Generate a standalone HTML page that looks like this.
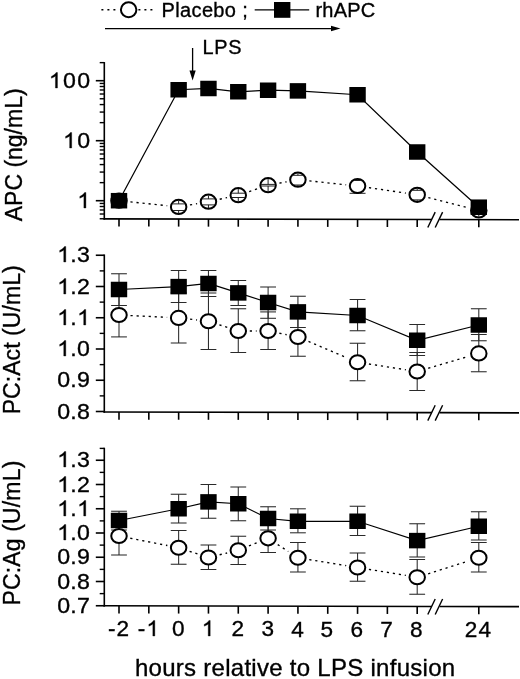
<!DOCTYPE html>
<html><head><meta charset="utf-8"><title>Figure</title>
<style>
html,body{margin:0;padding:0;background:#fff;}
body{width:520px;height:679px;overflow:hidden;font-family:"Liberation Sans",sans-serif;}
svg{display:block;will-change:transform;}
text{stroke:#000;stroke-width:0.35px;fill:#000;}
</style></head><body>
<svg width="520" height="679" viewBox="0 0 520 679">
<defs><filter id="soft" x="0" y="0" width="520" height="679" filterUnits="userSpaceOnUse"><feGaussianBlur stdDeviation="0.35"/></filter></defs>
<rect width="520" height="679" fill="#fff"/>
<g filter="url(#soft)">
<line x1="101.40" y1="9.80" x2="118.00" y2="9.80" stroke="#000" stroke-width="1.5" stroke-dasharray="2 4"/>
<line x1="138.40" y1="9.80" x2="153.00" y2="9.80" stroke="#000" stroke-width="1.5" stroke-dasharray="2 4"/>
<ellipse cx="128.65" cy="9.80" rx="7.75" ry="7.45" fill="#fff" stroke="#000" stroke-width="2.0"/>
<text x="161.60" y="17.00" font-size="20" text-anchor="start" letter-spacing="0.35" font-family="Liberation Sans, sans-serif" >Placebo ;</text>
<line x1="254.70" y1="9.80" x2="309.20" y2="9.80" stroke="#000" stroke-width="1.3" />
<rect x="274.00" y="2.00" width="16.4" height="15.8" fill="#000"/>
<text x="315.40" y="17.00" font-size="20" text-anchor="start" letter-spacing="0.25" font-family="Liberation Sans, sans-serif" >rhAPC</text>
<line x1="105.00" y1="28.60" x2="333.00" y2="28.60" stroke="#000" stroke-width="1.3" />
<polygon points="331,25.8 340.5,28.5 331,31.2" fill="#000"/>
<line x1="192.60" y1="48.00" x2="192.60" y2="73.00" stroke="#000" stroke-width="1.3" />
<polygon points="189.5,70.6 195.7,70.6 192.6,80.6" fill="#000"/>
<text transform="translate(202.4,53.6) scale(1.02,1)" font-size="19.5" letter-spacing="0.7" font-family="Liberation Sans, sans-serif">LPS</text>
<line x1="104.30" y1="62.04" x2="104.30" y2="219.65" stroke="#000" stroke-width="1.6" />
<line x1="99.70" y1="218.76" x2="104.30" y2="218.76" stroke="#000" stroke-width="1.4" />
<line x1="99.70" y1="214.01" x2="104.30" y2="214.01" stroke="#000" stroke-width="1.4" />
<line x1="99.70" y1="209.99" x2="104.30" y2="209.99" stroke="#000" stroke-width="1.4" />
<line x1="99.70" y1="206.51" x2="104.30" y2="206.51" stroke="#000" stroke-width="1.4" />
<line x1="99.70" y1="203.45" x2="104.30" y2="203.45" stroke="#000" stroke-width="1.4" />
<line x1="95.80" y1="200.70" x2="104.30" y2="200.70" stroke="#000" stroke-width="1.6" />
<line x1="99.70" y1="182.64" x2="104.30" y2="182.64" stroke="#000" stroke-width="1.4" />
<line x1="99.70" y1="172.07" x2="104.30" y2="172.07" stroke="#000" stroke-width="1.4" />
<line x1="99.70" y1="164.58" x2="104.30" y2="164.58" stroke="#000" stroke-width="1.4" />
<line x1="99.70" y1="158.76" x2="104.30" y2="158.76" stroke="#000" stroke-width="1.4" />
<line x1="99.70" y1="154.01" x2="104.30" y2="154.01" stroke="#000" stroke-width="1.4" />
<line x1="99.70" y1="149.99" x2="104.30" y2="149.99" stroke="#000" stroke-width="1.4" />
<line x1="99.70" y1="146.51" x2="104.30" y2="146.51" stroke="#000" stroke-width="1.4" />
<line x1="99.70" y1="143.45" x2="104.30" y2="143.45" stroke="#000" stroke-width="1.4" />
<line x1="95.80" y1="140.70" x2="104.30" y2="140.70" stroke="#000" stroke-width="1.6" />
<line x1="99.70" y1="122.64" x2="104.30" y2="122.64" stroke="#000" stroke-width="1.4" />
<line x1="99.70" y1="112.07" x2="104.30" y2="112.07" stroke="#000" stroke-width="1.4" />
<line x1="99.70" y1="104.58" x2="104.30" y2="104.58" stroke="#000" stroke-width="1.4" />
<line x1="99.70" y1="98.76" x2="104.30" y2="98.76" stroke="#000" stroke-width="1.4" />
<line x1="99.70" y1="94.01" x2="104.30" y2="94.01" stroke="#000" stroke-width="1.4" />
<line x1="99.70" y1="89.99" x2="104.30" y2="89.99" stroke="#000" stroke-width="1.4" />
<line x1="99.70" y1="86.51" x2="104.30" y2="86.51" stroke="#000" stroke-width="1.4" />
<line x1="99.70" y1="83.45" x2="104.30" y2="83.45" stroke="#000" stroke-width="1.4" />
<line x1="95.80" y1="80.70" x2="104.30" y2="80.70" stroke="#000" stroke-width="1.6" />
<line x1="99.70" y1="62.64" x2="104.30" y2="62.64" stroke="#000" stroke-width="1.4" />
<g transform="translate(48.83,88.00) scale(1.03,1)">
<path transform="translate(0.00,0) scale(0.01099,-0.01052)" d="M763,0 L583,0 L583,1147 Q518,1085 412.5,1023 Q307,961 223,930 L223,1104 Q374,1175 487,1276 Q600,1377 647,1472 L763,1472 Z" fill="#000" stroke="#000" stroke-width="31.9"/>
<text x="13.81" y="0" font-size="22.5" font-family="Liberation Sans, sans-serif">0</text>
<text x="27.62" y="0" font-size="22.5" font-family="Liberation Sans, sans-serif">0</text>
</g>
<g transform="translate(63.05,148.00) scale(1.03,1)">
<path transform="translate(0.00,0) scale(0.01099,-0.01052)" d="M763,0 L583,0 L583,1147 Q518,1085 412.5,1023 Q307,961 223,930 L223,1104 Q374,1175 487,1276 Q600,1377 647,1472 L763,1472 Z" fill="#000" stroke="#000" stroke-width="31.9"/>
<text x="13.81" y="0" font-size="22.5" font-family="Liberation Sans, sans-serif">0</text>
</g>
<g transform="translate(77.28,208.00) scale(1.03,1)">
<path transform="translate(0.00,0) scale(0.01099,-0.01052)" d="M763,0 L583,0 L583,1147 Q518,1085 412.5,1023 Q307,961 223,930 L223,1104 Q374,1175 487,1276 Q600,1377 647,1472 L763,1472 Z" fill="#000" stroke="#000" stroke-width="31.9"/>
</g>
<line x1="103.50" y1="218.85" x2="431.80" y2="219.50" stroke="#000" stroke-width="1.6" />
<line x1="439.60" y1="219.52" x2="519.00" y2="219.68" stroke="#000" stroke-width="1.6" />
<line x1="119.00" y1="218.88" x2="119.00" y2="226.48" stroke="#000" stroke-width="1.6" />
<line x1="148.82" y1="218.94" x2="148.82" y2="226.54" stroke="#000" stroke-width="1.6" />
<line x1="178.64" y1="219.00" x2="178.64" y2="226.60" stroke="#000" stroke-width="1.6" />
<line x1="208.46" y1="219.06" x2="208.46" y2="226.66" stroke="#000" stroke-width="1.6" />
<line x1="238.28" y1="219.12" x2="238.28" y2="226.72" stroke="#000" stroke-width="1.6" />
<line x1="268.10" y1="219.18" x2="268.10" y2="226.78" stroke="#000" stroke-width="1.6" />
<line x1="297.92" y1="219.24" x2="297.92" y2="226.84" stroke="#000" stroke-width="1.6" />
<line x1="327.74" y1="219.30" x2="327.74" y2="226.90" stroke="#000" stroke-width="1.6" />
<line x1="357.56" y1="219.36" x2="357.56" y2="226.96" stroke="#000" stroke-width="1.6" />
<line x1="387.38" y1="219.42" x2="387.38" y2="227.02" stroke="#000" stroke-width="1.6" />
<line x1="417.20" y1="219.48" x2="417.20" y2="227.08" stroke="#000" stroke-width="1.6" />
<line x1="478.80" y1="219.60" x2="478.80" y2="227.20" stroke="#000" stroke-width="1.6" />
<line x1="427.80" y1="227.50" x2="435.20" y2="212.10" stroke="#000" stroke-width="1.4" />
<line x1="435.20" y1="227.51" x2="442.60" y2="212.11" stroke="#000" stroke-width="1.4" />
<line x1="130.44" y1="201.89" x2="167.20" y2="205.71" stroke="#000" stroke-width="1.35" stroke-dasharray="2.2 3.86"/>
<line x1="189.97" y1="204.92" x2="197.13" y2="203.68" stroke="#000" stroke-width="1.35" stroke-dasharray="2.2 3.86"/>
<line x1="219.70" y1="199.25" x2="227.04" y2="197.65" stroke="#000" stroke-width="1.35" stroke-dasharray="2.2 3.86"/>
<line x1="249.18" y1="191.54" x2="257.20" y2="188.86" stroke="#000" stroke-width="1.35" stroke-dasharray="2.2 3.86"/>
<line x1="279.41" y1="183.11" x2="286.61" y2="181.79" stroke="#000" stroke-width="1.35" stroke-dasharray="2.2 3.86"/>
<line x1="309.36" y1="180.91" x2="346.12" y2="184.79" stroke="#000" stroke-width="1.35" stroke-dasharray="2.2 3.86"/>
<line x1="368.94" y1="187.68" x2="405.82" y2="193.12" stroke="#000" stroke-width="1.35" stroke-dasharray="2.2 3.86"/>
<line x1="428.34" y1="197.64" x2="467.66" y2="207.66" stroke="#000" stroke-width="1.35" stroke-dasharray="2.2 3.86"/>
<polyline points="119.00,200.70 178.64,89.75 208.46,88.50 238.28,91.75 268.10,90.25 297.92,90.90 357.56,94.75 417.20,152.00 478.80,207.20" fill="none" stroke="#000" stroke-width="1.25" />
<ellipse cx="119.00" cy="200.70" rx="7.75" ry="7.1" fill="#fff" stroke="#000" stroke-width="2.0"/>
<clipPath id="cc0"><ellipse cx="119.00" cy="200.70" rx="7.15" ry="6.5"/></clipPath>
<g clip-path="url(#cc0)" stroke="#222" stroke-width="1.0">
<line x1="111.00" y1="199.20" x2="127.00" y2="199.20"/>
<line x1="119.00" y1="199.20" x2="119.00" y2="193.60"/>
<line x1="111.00" y1="202.20" x2="127.00" y2="202.20"/>
<line x1="119.00" y1="202.20" x2="119.00" y2="207.80"/>
</g>
<ellipse cx="178.64" cy="206.90" rx="7.75" ry="7.1" fill="#fff" stroke="#000" stroke-width="2.0"/>
<clipPath id="cc1"><ellipse cx="178.64" cy="206.90" rx="7.15" ry="6.5"/></clipPath>
<g clip-path="url(#cc1)" stroke="#222" stroke-width="1.0">
<line x1="170.64" y1="203.90" x2="186.64" y2="203.90"/>
<line x1="178.64" y1="203.90" x2="178.64" y2="199.80"/>
<line x1="170.64" y1="210.50" x2="186.64" y2="210.50"/>
<line x1="178.64" y1="210.50" x2="178.64" y2="214.00"/>
</g>
<ellipse cx="208.46" cy="201.70" rx="7.75" ry="7.1" fill="#fff" stroke="#000" stroke-width="2.0"/>
<clipPath id="cc2"><ellipse cx="208.46" cy="201.70" rx="7.15" ry="6.5"/></clipPath>
<g clip-path="url(#cc2)" stroke="#222" stroke-width="1.0">
<line x1="200.46" y1="198.90" x2="216.46" y2="198.90"/>
<line x1="208.46" y1="198.90" x2="208.46" y2="194.60"/>
<line x1="200.46" y1="204.90" x2="216.46" y2="204.90"/>
<line x1="208.46" y1="204.90" x2="208.46" y2="208.80"/>
</g>
<ellipse cx="238.28" cy="195.20" rx="7.75" ry="7.1" fill="#fff" stroke="#000" stroke-width="2.0"/>
<clipPath id="cc3"><ellipse cx="238.28" cy="195.20" rx="7.15" ry="6.5"/></clipPath>
<g clip-path="url(#cc3)" stroke="#222" stroke-width="1.0">
<line x1="230.28" y1="193.20" x2="246.28" y2="193.20"/>
<line x1="238.28" y1="193.20" x2="238.28" y2="188.10"/>
<line x1="230.28" y1="197.50" x2="246.28" y2="197.50"/>
<line x1="238.28" y1="197.50" x2="238.28" y2="202.30"/>
</g>
<ellipse cx="268.10" cy="185.20" rx="7.75" ry="7.1" fill="#fff" stroke="#000" stroke-width="2.0"/>
<clipPath id="cc4"><ellipse cx="268.10" cy="185.20" rx="7.15" ry="6.5"/></clipPath>
<g clip-path="url(#cc4)" stroke="#222" stroke-width="1.0">
<line x1="260.10" y1="184.40" x2="276.10" y2="184.40"/>
<line x1="268.10" y1="184.40" x2="268.10" y2="178.10"/>
<line x1="260.10" y1="186.00" x2="276.10" y2="186.00"/>
<line x1="268.10" y1="186.00" x2="268.10" y2="192.30"/>
</g>
<ellipse cx="297.92" cy="179.70" rx="7.75" ry="7.1" fill="#fff" stroke="#000" stroke-width="2.0"/>
<clipPath id="cc5"><ellipse cx="297.92" cy="179.70" rx="7.15" ry="6.5"/></clipPath>
<g clip-path="url(#cc5)" stroke="#222" stroke-width="1.0">
<line x1="289.92" y1="175.30" x2="305.92" y2="175.30"/>
<line x1="297.92" y1="175.30" x2="297.92" y2="172.60"/>
<line x1="289.92" y1="185.00" x2="305.92" y2="185.00"/>
<line x1="297.92" y1="185.00" x2="297.92" y2="186.80"/>
</g>
<line x1="349.56" y1="193.30" x2="365.56" y2="193.30" stroke="#222" stroke-width="1.0" />
<ellipse cx="357.56" cy="186.00" rx="7.75" ry="7.1" fill="#fff" stroke="#000" stroke-width="2.0"/>
<clipPath id="cc6"><ellipse cx="357.56" cy="186.00" rx="7.15" ry="6.5"/></clipPath>
<g clip-path="url(#cc6)" stroke="#222" stroke-width="1.0">
<line x1="349.56" y1="180.50" x2="365.56" y2="180.50"/>
<line x1="357.56" y1="180.50" x2="357.56" y2="178.90"/>
</g>
<ellipse cx="417.20" cy="194.80" rx="7.75" ry="7.1" fill="#fff" stroke="#000" stroke-width="2.0"/>
<clipPath id="cc7"><ellipse cx="417.20" cy="194.80" rx="7.15" ry="6.5"/></clipPath>
<g clip-path="url(#cc7)" stroke="#222" stroke-width="1.0">
<line x1="409.20" y1="190.30" x2="425.20" y2="190.30"/>
<line x1="417.20" y1="190.30" x2="417.20" y2="187.70"/>
<line x1="409.20" y1="199.90" x2="425.20" y2="199.90"/>
<line x1="417.20" y1="199.90" x2="417.20" y2="201.90"/>
</g>
<ellipse cx="478.80" cy="210.50" rx="7.75" ry="7.1" fill="#fff" stroke="#000" stroke-width="2.0"/>
<clipPath id="cc8"><ellipse cx="478.80" cy="210.50" rx="7.15" ry="6.5"/></clipPath>
<g clip-path="url(#cc8)" stroke="#222" stroke-width="1.0">
<line x1="470.80" y1="207.00" x2="486.80" y2="207.00"/>
<line x1="478.80" y1="207.00" x2="478.80" y2="203.40"/>
<line x1="470.80" y1="214.50" x2="486.80" y2="214.50"/>
<line x1="478.80" y1="214.50" x2="478.80" y2="217.60"/>
</g>
<rect x="110.80" y="192.95" width="16.4" height="15.5" fill="#000"/>
<rect x="170.44" y="82.00" width="16.4" height="15.5" fill="#000"/>
<rect x="200.26" y="80.75" width="16.4" height="15.5" fill="#000"/>
<rect x="230.08" y="84.00" width="16.4" height="15.5" fill="#000"/>
<rect x="259.90" y="82.50" width="16.4" height="15.5" fill="#000"/>
<rect x="289.72" y="83.15" width="16.4" height="15.5" fill="#000"/>
<rect x="349.36" y="87.00" width="16.4" height="15.5" fill="#000"/>
<rect x="409.00" y="144.25" width="16.4" height="15.5" fill="#000"/>
<rect x="470.60" y="199.45" width="16.4" height="15.5" fill="#000"/>
<text transform="translate(21.8,221.3) rotate(-90)" font-size="23" font-family="Liberation Sans, sans-serif">APC (ng/mL)</text>
<line x1="104.30" y1="254.45" x2="104.30" y2="412.80" stroke="#000" stroke-width="1.6" />
<line x1="95.80" y1="411.50" x2="104.30" y2="411.50" stroke="#000" stroke-width="1.6" />
<g transform="translate(57.16,419.00) scale(1.03,1)">
<text x="0.00" y="0" font-size="22.5" font-family="Liberation Sans, sans-serif">0</text>
<text x="12.81" y="0" font-size="22.5" font-family="Liberation Sans, sans-serif">.</text>
<text x="19.37" y="0" font-size="22.5" font-family="Liberation Sans, sans-serif">8</text>
</g>
<line x1="99.70" y1="395.88" x2="104.30" y2="395.88" stroke="#000" stroke-width="1.4" />
<line x1="95.80" y1="380.25" x2="104.30" y2="380.25" stroke="#000" stroke-width="1.6" />
<g transform="translate(57.16,387.00) scale(1.03,1)">
<text x="0.00" y="0" font-size="22.5" font-family="Liberation Sans, sans-serif">0</text>
<text x="12.81" y="0" font-size="22.5" font-family="Liberation Sans, sans-serif">.</text>
<text x="19.37" y="0" font-size="22.5" font-family="Liberation Sans, sans-serif">9</text>
</g>
<line x1="99.70" y1="364.62" x2="104.30" y2="364.62" stroke="#000" stroke-width="1.4" />
<line x1="95.80" y1="349.00" x2="104.30" y2="349.00" stroke="#000" stroke-width="1.6" />
<g transform="translate(57.16,356.00) scale(1.03,1)">
<path transform="translate(0.00,0) scale(0.01099,-0.01052)" d="M763,0 L583,0 L583,1147 Q518,1085 412.5,1023 Q307,961 223,930 L223,1104 Q374,1175 487,1276 Q600,1377 647,1472 L763,1472 Z" fill="#000" stroke="#000" stroke-width="31.9"/>
<text x="12.81" y="0" font-size="22.5" font-family="Liberation Sans, sans-serif">.</text>
<text x="19.37" y="0" font-size="22.5" font-family="Liberation Sans, sans-serif">0</text>
</g>
<line x1="99.70" y1="333.38" x2="104.30" y2="333.38" stroke="#000" stroke-width="1.4" />
<line x1="95.80" y1="317.75" x2="104.30" y2="317.75" stroke="#000" stroke-width="1.6" />
<g transform="translate(57.16,325.00) scale(1.03,1)">
<path transform="translate(0.00,0) scale(0.01099,-0.01052)" d="M763,0 L583,0 L583,1147 Q518,1085 412.5,1023 Q307,961 223,930 L223,1104 Q374,1175 487,1276 Q600,1377 647,1472 L763,1472 Z" fill="#000" stroke="#000" stroke-width="31.9"/>
<text x="12.81" y="0" font-size="22.5" font-family="Liberation Sans, sans-serif">.</text>
<path transform="translate(19.37,0) scale(0.01099,-0.01052)" d="M763,0 L583,0 L583,1147 Q518,1085 412.5,1023 Q307,961 223,930 L223,1104 Q374,1175 487,1276 Q600,1377 647,1472 L763,1472 Z" fill="#000" stroke="#000" stroke-width="31.9"/>
</g>
<line x1="99.70" y1="302.12" x2="104.30" y2="302.12" stroke="#000" stroke-width="1.4" />
<line x1="95.80" y1="286.50" x2="104.30" y2="286.50" stroke="#000" stroke-width="1.6" />
<g transform="translate(57.16,294.00) scale(1.03,1)">
<path transform="translate(0.00,0) scale(0.01099,-0.01052)" d="M763,0 L583,0 L583,1147 Q518,1085 412.5,1023 Q307,961 223,930 L223,1104 Q374,1175 487,1276 Q600,1377 647,1472 L763,1472 Z" fill="#000" stroke="#000" stroke-width="31.9"/>
<text x="12.81" y="0" font-size="22.5" font-family="Liberation Sans, sans-serif">.</text>
<text x="19.37" y="0" font-size="22.5" font-family="Liberation Sans, sans-serif">2</text>
</g>
<line x1="99.70" y1="270.88" x2="104.30" y2="270.88" stroke="#000" stroke-width="1.4" />
<line x1="95.80" y1="255.25" x2="104.30" y2="255.25" stroke="#000" stroke-width="1.6" />
<g transform="translate(57.16,262.00) scale(1.03,1)">
<path transform="translate(0.00,0) scale(0.01099,-0.01052)" d="M763,0 L583,0 L583,1147 Q518,1085 412.5,1023 Q307,961 223,930 L223,1104 Q374,1175 487,1276 Q600,1377 647,1472 L763,1472 Z" fill="#000" stroke="#000" stroke-width="31.9"/>
<text x="12.81" y="0" font-size="22.5" font-family="Liberation Sans, sans-serif">.</text>
<text x="19.37" y="0" font-size="22.5" font-family="Liberation Sans, sans-serif">3</text>
</g>
<line x1="103.50" y1="412.00" x2="431.80" y2="412.65" stroke="#000" stroke-width="1.6" />
<line x1="439.60" y1="412.67" x2="519.00" y2="412.83" stroke="#000" stroke-width="1.6" />
<line x1="119.00" y1="412.03" x2="119.00" y2="419.63" stroke="#000" stroke-width="1.6" />
<line x1="148.82" y1="412.09" x2="148.82" y2="419.69" stroke="#000" stroke-width="1.6" />
<line x1="178.64" y1="412.15" x2="178.64" y2="419.75" stroke="#000" stroke-width="1.6" />
<line x1="208.46" y1="412.21" x2="208.46" y2="419.81" stroke="#000" stroke-width="1.6" />
<line x1="238.28" y1="412.27" x2="238.28" y2="419.87" stroke="#000" stroke-width="1.6" />
<line x1="268.10" y1="412.33" x2="268.10" y2="419.93" stroke="#000" stroke-width="1.6" />
<line x1="297.92" y1="412.39" x2="297.92" y2="419.99" stroke="#000" stroke-width="1.6" />
<line x1="327.74" y1="412.45" x2="327.74" y2="420.05" stroke="#000" stroke-width="1.6" />
<line x1="357.56" y1="412.51" x2="357.56" y2="420.11" stroke="#000" stroke-width="1.6" />
<line x1="387.38" y1="412.57" x2="387.38" y2="420.17" stroke="#000" stroke-width="1.6" />
<line x1="417.20" y1="412.63" x2="417.20" y2="420.23" stroke="#000" stroke-width="1.6" />
<line x1="478.80" y1="412.75" x2="478.80" y2="420.35" stroke="#000" stroke-width="1.6" />
<line x1="427.80" y1="420.65" x2="435.20" y2="405.25" stroke="#000" stroke-width="1.4" />
<line x1="435.20" y1="420.66" x2="442.60" y2="405.26" stroke="#000" stroke-width="1.4" />
<line x1="119.00" y1="294.00" x2="119.00" y2="336.90" stroke="#2a2a2a" stroke-width="1.05" />
<line x1="111.10" y1="294.00" x2="126.90" y2="294.00" stroke="#2a2a2a" stroke-width="1.05" />
<line x1="111.10" y1="336.90" x2="126.90" y2="336.90" stroke="#2a2a2a" stroke-width="1.05" />
<line x1="178.64" y1="292.90" x2="178.64" y2="343.00" stroke="#2a2a2a" stroke-width="1.05" />
<line x1="170.74" y1="292.90" x2="186.54" y2="292.90" stroke="#2a2a2a" stroke-width="1.05" />
<line x1="170.74" y1="343.00" x2="186.54" y2="343.00" stroke="#2a2a2a" stroke-width="1.05" />
<line x1="208.46" y1="293.00" x2="208.46" y2="349.50" stroke="#2a2a2a" stroke-width="1.05" />
<line x1="200.56" y1="293.00" x2="216.36" y2="293.00" stroke="#2a2a2a" stroke-width="1.05" />
<line x1="200.56" y1="349.50" x2="216.36" y2="349.50" stroke="#2a2a2a" stroke-width="1.05" />
<line x1="238.28" y1="308.75" x2="238.28" y2="352.50" stroke="#2a2a2a" stroke-width="1.05" />
<line x1="230.38" y1="308.75" x2="246.18" y2="308.75" stroke="#2a2a2a" stroke-width="1.05" />
<line x1="230.38" y1="352.50" x2="246.18" y2="352.50" stroke="#2a2a2a" stroke-width="1.05" />
<line x1="268.10" y1="311.90" x2="268.10" y2="349.50" stroke="#2a2a2a" stroke-width="1.05" />
<line x1="260.20" y1="311.90" x2="276.00" y2="311.90" stroke="#2a2a2a" stroke-width="1.05" />
<line x1="260.20" y1="349.50" x2="276.00" y2="349.50" stroke="#2a2a2a" stroke-width="1.05" />
<line x1="297.92" y1="318.50" x2="297.92" y2="356.25" stroke="#2a2a2a" stroke-width="1.05" />
<line x1="290.02" y1="318.50" x2="305.82" y2="318.50" stroke="#2a2a2a" stroke-width="1.05" />
<line x1="290.02" y1="356.25" x2="305.82" y2="356.25" stroke="#2a2a2a" stroke-width="1.05" />
<line x1="357.56" y1="343.25" x2="357.56" y2="380.75" stroke="#2a2a2a" stroke-width="1.05" />
<line x1="349.66" y1="343.25" x2="365.46" y2="343.25" stroke="#2a2a2a" stroke-width="1.05" />
<line x1="349.66" y1="380.75" x2="365.46" y2="380.75" stroke="#2a2a2a" stroke-width="1.05" />
<line x1="417.20" y1="352.50" x2="417.20" y2="390.50" stroke="#2a2a2a" stroke-width="1.05" />
<line x1="409.30" y1="352.50" x2="425.10" y2="352.50" stroke="#2a2a2a" stroke-width="1.05" />
<line x1="409.30" y1="390.50" x2="425.10" y2="390.50" stroke="#2a2a2a" stroke-width="1.05" />
<line x1="478.80" y1="334.50" x2="478.80" y2="371.75" stroke="#2a2a2a" stroke-width="1.05" />
<line x1="470.90" y1="334.50" x2="486.70" y2="334.50" stroke="#2a2a2a" stroke-width="1.05" />
<line x1="470.90" y1="371.75" x2="486.70" y2="371.75" stroke="#2a2a2a" stroke-width="1.05" />
<line x1="119.00" y1="273.75" x2="119.00" y2="305.50" stroke="#2a2a2a" stroke-width="1.05" />
<line x1="111.10" y1="273.75" x2="126.90" y2="273.75" stroke="#2a2a2a" stroke-width="1.05" />
<line x1="111.10" y1="305.50" x2="126.90" y2="305.50" stroke="#2a2a2a" stroke-width="1.05" />
<line x1="178.64" y1="270.50" x2="178.64" y2="302.50" stroke="#2a2a2a" stroke-width="1.05" />
<line x1="170.74" y1="270.50" x2="186.54" y2="270.50" stroke="#2a2a2a" stroke-width="1.05" />
<line x1="170.74" y1="302.50" x2="186.54" y2="302.50" stroke="#2a2a2a" stroke-width="1.05" />
<line x1="208.46" y1="270.50" x2="208.46" y2="296.50" stroke="#2a2a2a" stroke-width="1.05" />
<line x1="200.56" y1="270.50" x2="216.36" y2="270.50" stroke="#2a2a2a" stroke-width="1.05" />
<line x1="200.56" y1="296.50" x2="216.36" y2="296.50" stroke="#2a2a2a" stroke-width="1.05" />
<line x1="238.28" y1="280.50" x2="238.28" y2="305.50" stroke="#2a2a2a" stroke-width="1.05" />
<line x1="230.38" y1="280.50" x2="246.18" y2="280.50" stroke="#2a2a2a" stroke-width="1.05" />
<line x1="230.38" y1="305.50" x2="246.18" y2="305.50" stroke="#2a2a2a" stroke-width="1.05" />
<line x1="268.10" y1="287.00" x2="268.10" y2="318.30" stroke="#2a2a2a" stroke-width="1.05" />
<line x1="260.20" y1="287.00" x2="276.00" y2="287.00" stroke="#2a2a2a" stroke-width="1.05" />
<line x1="260.20" y1="318.30" x2="276.00" y2="318.30" stroke="#2a2a2a" stroke-width="1.05" />
<line x1="297.92" y1="296.25" x2="297.92" y2="327.50" stroke="#2a2a2a" stroke-width="1.05" />
<line x1="290.02" y1="296.25" x2="305.82" y2="296.25" stroke="#2a2a2a" stroke-width="1.05" />
<line x1="290.02" y1="327.50" x2="305.82" y2="327.50" stroke="#2a2a2a" stroke-width="1.05" />
<line x1="357.56" y1="299.50" x2="357.56" y2="330.75" stroke="#2a2a2a" stroke-width="1.05" />
<line x1="349.66" y1="299.50" x2="365.46" y2="299.50" stroke="#2a2a2a" stroke-width="1.05" />
<line x1="349.66" y1="330.75" x2="365.46" y2="330.75" stroke="#2a2a2a" stroke-width="1.05" />
<line x1="417.20" y1="324.50" x2="417.20" y2="355.50" stroke="#2a2a2a" stroke-width="1.05" />
<line x1="409.30" y1="324.50" x2="425.10" y2="324.50" stroke="#2a2a2a" stroke-width="1.05" />
<line x1="409.30" y1="355.50" x2="425.10" y2="355.50" stroke="#2a2a2a" stroke-width="1.05" />
<line x1="478.80" y1="308.75" x2="478.80" y2="340.75" stroke="#2a2a2a" stroke-width="1.05" />
<line x1="470.90" y1="308.75" x2="486.70" y2="308.75" stroke="#2a2a2a" stroke-width="1.05" />
<line x1="470.90" y1="340.75" x2="486.70" y2="340.75" stroke="#2a2a2a" stroke-width="1.05" />
<line x1="130.49" y1="315.56" x2="167.15" y2="317.34" stroke="#000" stroke-width="1.35" stroke-dasharray="2.2 3.86"/>
<line x1="190.07" y1="319.18" x2="197.03" y2="319.97" stroke="#000" stroke-width="1.35" stroke-dasharray="2.2 3.86"/>
<line x1="219.39" y1="324.82" x2="227.35" y2="327.43" stroke="#000" stroke-width="1.35" stroke-dasharray="2.2 3.86"/>
<line x1="249.78" y1="331.00" x2="256.60" y2="331.00" stroke="#000" stroke-width="1.35" stroke-dasharray="2.2 3.86"/>
<line x1="279.37" y1="333.27" x2="286.65" y2="334.73" stroke="#000" stroke-width="1.35" stroke-dasharray="2.2 3.86"/>
<line x1="308.51" y1="341.48" x2="346.97" y2="357.77" stroke="#000" stroke-width="1.35" stroke-dasharray="2.2 3.86"/>
<line x1="368.92" y1="364.01" x2="405.84" y2="369.74" stroke="#000" stroke-width="1.35" stroke-dasharray="2.2 3.86"/>
<line x1="428.23" y1="368.26" x2="467.77" y2="356.64" stroke="#000" stroke-width="1.35" stroke-dasharray="2.2 3.86"/>
<polyline points="119.00,289.50 178.64,286.60 208.46,283.50 238.28,292.90 268.10,302.50 297.92,311.90 357.56,315.50 417.20,340.25 478.80,325.00" fill="none" stroke="#000" stroke-width="1.25" />
<ellipse cx="119.00" cy="315.00" rx="7.75" ry="7.1" fill="#fff" stroke="#000" stroke-width="2.0"/>
<ellipse cx="178.64" cy="317.90" rx="7.75" ry="7.1" fill="#fff" stroke="#000" stroke-width="2.0"/>
<ellipse cx="208.46" cy="321.25" rx="7.75" ry="7.1" fill="#fff" stroke="#000" stroke-width="2.0"/>
<ellipse cx="238.28" cy="331.00" rx="7.75" ry="7.1" fill="#fff" stroke="#000" stroke-width="2.0"/>
<ellipse cx="268.10" cy="331.00" rx="7.75" ry="7.1" fill="#fff" stroke="#000" stroke-width="2.0"/>
<ellipse cx="297.92" cy="337.00" rx="7.75" ry="7.1" fill="#fff" stroke="#000" stroke-width="2.0"/>
<ellipse cx="357.56" cy="362.25" rx="7.75" ry="7.1" fill="#fff" stroke="#000" stroke-width="2.0"/>
<ellipse cx="417.20" cy="371.50" rx="7.75" ry="7.1" fill="#fff" stroke="#000" stroke-width="2.0"/>
<ellipse cx="478.80" cy="353.40" rx="7.75" ry="7.1" fill="#fff" stroke="#000" stroke-width="2.0"/>
<rect x="110.80" y="281.75" width="16.4" height="15.5" fill="#000"/>
<rect x="170.44" y="278.85" width="16.4" height="15.5" fill="#000"/>
<rect x="200.26" y="275.75" width="16.4" height="15.5" fill="#000"/>
<rect x="230.08" y="285.15" width="16.4" height="15.5" fill="#000"/>
<rect x="259.90" y="294.75" width="16.4" height="15.5" fill="#000"/>
<rect x="289.72" y="304.15" width="16.4" height="15.5" fill="#000"/>
<rect x="349.36" y="307.75" width="16.4" height="15.5" fill="#000"/>
<rect x="409.00" y="332.50" width="16.4" height="15.5" fill="#000"/>
<rect x="470.60" y="317.25" width="16.4" height="15.5" fill="#000"/>
<text transform="translate(19.5,414.3) rotate(-90)" font-size="23" letter-spacing="0.06" font-family="Liberation Sans, sans-serif">PC:Act (U/mL)</text>
<line x1="104.30" y1="447.70" x2="104.30" y2="606.60" stroke="#000" stroke-width="1.6" />
<line x1="95.80" y1="605.75" x2="104.30" y2="605.75" stroke="#000" stroke-width="1.6" />
<g transform="translate(57.16,613.00) scale(1.03,1)">
<text x="0.00" y="0" font-size="22.5" font-family="Liberation Sans, sans-serif">0</text>
<text x="12.81" y="0" font-size="22.5" font-family="Liberation Sans, sans-serif">.</text>
<text x="19.37" y="0" font-size="22.5" font-family="Liberation Sans, sans-serif">7</text>
</g>
<line x1="99.70" y1="593.62" x2="104.30" y2="593.62" stroke="#000" stroke-width="1.4" />
<line x1="95.80" y1="581.50" x2="104.30" y2="581.50" stroke="#000" stroke-width="1.6" />
<g transform="translate(57.16,589.00) scale(1.03,1)">
<text x="0.00" y="0" font-size="22.5" font-family="Liberation Sans, sans-serif">0</text>
<text x="12.81" y="0" font-size="22.5" font-family="Liberation Sans, sans-serif">.</text>
<text x="19.37" y="0" font-size="22.5" font-family="Liberation Sans, sans-serif">8</text>
</g>
<line x1="99.70" y1="569.38" x2="104.30" y2="569.38" stroke="#000" stroke-width="1.4" />
<line x1="95.80" y1="557.25" x2="104.30" y2="557.25" stroke="#000" stroke-width="1.6" />
<g transform="translate(57.16,564.00) scale(1.03,1)">
<text x="0.00" y="0" font-size="22.5" font-family="Liberation Sans, sans-serif">0</text>
<text x="12.81" y="0" font-size="22.5" font-family="Liberation Sans, sans-serif">.</text>
<text x="19.37" y="0" font-size="22.5" font-family="Liberation Sans, sans-serif">9</text>
</g>
<line x1="99.70" y1="545.12" x2="104.30" y2="545.12" stroke="#000" stroke-width="1.4" />
<line x1="95.80" y1="533.00" x2="104.30" y2="533.00" stroke="#000" stroke-width="1.6" />
<g transform="translate(57.16,540.00) scale(1.03,1)">
<path transform="translate(0.00,0) scale(0.01099,-0.01052)" d="M763,0 L583,0 L583,1147 Q518,1085 412.5,1023 Q307,961 223,930 L223,1104 Q374,1175 487,1276 Q600,1377 647,1472 L763,1472 Z" fill="#000" stroke="#000" stroke-width="31.9"/>
<text x="12.81" y="0" font-size="22.5" font-family="Liberation Sans, sans-serif">.</text>
<text x="19.37" y="0" font-size="22.5" font-family="Liberation Sans, sans-serif">0</text>
</g>
<line x1="99.70" y1="520.88" x2="104.30" y2="520.88" stroke="#000" stroke-width="1.4" />
<line x1="95.80" y1="508.75" x2="104.30" y2="508.75" stroke="#000" stroke-width="1.6" />
<g transform="translate(57.16,516.00) scale(1.03,1)">
<path transform="translate(0.00,0) scale(0.01099,-0.01052)" d="M763,0 L583,0 L583,1147 Q518,1085 412.5,1023 Q307,961 223,930 L223,1104 Q374,1175 487,1276 Q600,1377 647,1472 L763,1472 Z" fill="#000" stroke="#000" stroke-width="31.9"/>
<text x="12.81" y="0" font-size="22.5" font-family="Liberation Sans, sans-serif">.</text>
<path transform="translate(19.37,0) scale(0.01099,-0.01052)" d="M763,0 L583,0 L583,1147 Q518,1085 412.5,1023 Q307,961 223,930 L223,1104 Q374,1175 487,1276 Q600,1377 647,1472 L763,1472 Z" fill="#000" stroke="#000" stroke-width="31.9"/>
</g>
<line x1="99.70" y1="496.62" x2="104.30" y2="496.62" stroke="#000" stroke-width="1.4" />
<line x1="95.80" y1="484.50" x2="104.30" y2="484.50" stroke="#000" stroke-width="1.6" />
<g transform="translate(57.16,492.00) scale(1.03,1)">
<path transform="translate(0.00,0) scale(0.01099,-0.01052)" d="M763,0 L583,0 L583,1147 Q518,1085 412.5,1023 Q307,961 223,930 L223,1104 Q374,1175 487,1276 Q600,1377 647,1472 L763,1472 Z" fill="#000" stroke="#000" stroke-width="31.9"/>
<text x="12.81" y="0" font-size="22.5" font-family="Liberation Sans, sans-serif">.</text>
<text x="19.37" y="0" font-size="22.5" font-family="Liberation Sans, sans-serif">2</text>
</g>
<line x1="99.70" y1="472.38" x2="104.30" y2="472.38" stroke="#000" stroke-width="1.4" />
<line x1="95.80" y1="460.25" x2="104.30" y2="460.25" stroke="#000" stroke-width="1.6" />
<g transform="translate(57.16,467.00) scale(1.03,1)">
<path transform="translate(0.00,0) scale(0.01099,-0.01052)" d="M763,0 L583,0 L583,1147 Q518,1085 412.5,1023 Q307,961 223,930 L223,1104 Q374,1175 487,1276 Q600,1377 647,1472 L763,1472 Z" fill="#000" stroke="#000" stroke-width="31.9"/>
<text x="12.81" y="0" font-size="22.5" font-family="Liberation Sans, sans-serif">.</text>
<text x="19.37" y="0" font-size="22.5" font-family="Liberation Sans, sans-serif">3</text>
</g>
<line x1="99.70" y1="448.40" x2="104.30" y2="448.40" stroke="#000" stroke-width="1.4" />
<line x1="103.50" y1="605.80" x2="431.80" y2="606.45" stroke="#000" stroke-width="1.6" />
<line x1="439.60" y1="606.47" x2="519.00" y2="606.63" stroke="#000" stroke-width="1.6" />
<line x1="119.00" y1="605.83" x2="119.00" y2="613.43" stroke="#000" stroke-width="1.6" />
<line x1="148.82" y1="605.89" x2="148.82" y2="613.49" stroke="#000" stroke-width="1.6" />
<line x1="178.64" y1="605.95" x2="178.64" y2="613.55" stroke="#000" stroke-width="1.6" />
<line x1="208.46" y1="606.01" x2="208.46" y2="613.61" stroke="#000" stroke-width="1.6" />
<line x1="238.28" y1="606.07" x2="238.28" y2="613.67" stroke="#000" stroke-width="1.6" />
<line x1="268.10" y1="606.13" x2="268.10" y2="613.73" stroke="#000" stroke-width="1.6" />
<line x1="297.92" y1="606.19" x2="297.92" y2="613.79" stroke="#000" stroke-width="1.6" />
<line x1="327.74" y1="606.25" x2="327.74" y2="613.85" stroke="#000" stroke-width="1.6" />
<line x1="357.56" y1="606.31" x2="357.56" y2="613.91" stroke="#000" stroke-width="1.6" />
<line x1="387.38" y1="606.37" x2="387.38" y2="613.97" stroke="#000" stroke-width="1.6" />
<line x1="417.20" y1="606.43" x2="417.20" y2="614.03" stroke="#000" stroke-width="1.6" />
<line x1="478.80" y1="606.55" x2="478.80" y2="614.15" stroke="#000" stroke-width="1.6" />
<line x1="427.80" y1="614.45" x2="435.20" y2="599.05" stroke="#000" stroke-width="1.4" />
<line x1="435.20" y1="614.46" x2="442.60" y2="599.06" stroke="#000" stroke-width="1.4" />
<line x1="119.00" y1="516.00" x2="119.00" y2="555.00" stroke="#2a2a2a" stroke-width="1.05" />
<line x1="111.10" y1="516.00" x2="126.90" y2="516.00" stroke="#2a2a2a" stroke-width="1.05" />
<line x1="111.10" y1="555.00" x2="126.90" y2="555.00" stroke="#2a2a2a" stroke-width="1.05" />
<line x1="178.64" y1="530.50" x2="178.64" y2="564.25" stroke="#2a2a2a" stroke-width="1.05" />
<line x1="170.74" y1="530.50" x2="186.54" y2="530.50" stroke="#2a2a2a" stroke-width="1.05" />
<line x1="170.74" y1="564.25" x2="186.54" y2="564.25" stroke="#2a2a2a" stroke-width="1.05" />
<line x1="208.46" y1="545.00" x2="208.46" y2="569.50" stroke="#2a2a2a" stroke-width="1.05" />
<line x1="200.56" y1="545.00" x2="216.36" y2="545.00" stroke="#2a2a2a" stroke-width="1.05" />
<line x1="200.56" y1="569.50" x2="216.36" y2="569.50" stroke="#2a2a2a" stroke-width="1.05" />
<line x1="238.28" y1="536.25" x2="238.28" y2="564.50" stroke="#2a2a2a" stroke-width="1.05" />
<line x1="230.38" y1="536.25" x2="246.18" y2="536.25" stroke="#2a2a2a" stroke-width="1.05" />
<line x1="230.38" y1="564.50" x2="246.18" y2="564.50" stroke="#2a2a2a" stroke-width="1.05" />
<line x1="268.10" y1="523.50" x2="268.10" y2="552.50" stroke="#2a2a2a" stroke-width="1.05" />
<line x1="260.20" y1="523.50" x2="276.00" y2="523.50" stroke="#2a2a2a" stroke-width="1.05" />
<line x1="260.20" y1="552.50" x2="276.00" y2="552.50" stroke="#2a2a2a" stroke-width="1.05" />
<line x1="297.92" y1="542.50" x2="297.92" y2="572.00" stroke="#2a2a2a" stroke-width="1.05" />
<line x1="290.02" y1="542.50" x2="305.82" y2="542.50" stroke="#2a2a2a" stroke-width="1.05" />
<line x1="290.02" y1="572.00" x2="305.82" y2="572.00" stroke="#2a2a2a" stroke-width="1.05" />
<line x1="357.56" y1="553.00" x2="357.56" y2="581.25" stroke="#2a2a2a" stroke-width="1.05" />
<line x1="349.66" y1="553.00" x2="365.46" y2="553.00" stroke="#2a2a2a" stroke-width="1.05" />
<line x1="349.66" y1="581.25" x2="365.46" y2="581.25" stroke="#2a2a2a" stroke-width="1.05" />
<line x1="417.20" y1="559.50" x2="417.20" y2="594.25" stroke="#2a2a2a" stroke-width="1.05" />
<line x1="409.30" y1="559.50" x2="425.10" y2="559.50" stroke="#2a2a2a" stroke-width="1.05" />
<line x1="409.30" y1="594.25" x2="425.10" y2="594.25" stroke="#2a2a2a" stroke-width="1.05" />
<line x1="478.80" y1="542.50" x2="478.80" y2="572.00" stroke="#2a2a2a" stroke-width="1.05" />
<line x1="470.90" y1="542.50" x2="486.70" y2="542.50" stroke="#2a2a2a" stroke-width="1.05" />
<line x1="470.90" y1="572.00" x2="486.70" y2="572.00" stroke="#2a2a2a" stroke-width="1.05" />
<line x1="119.00" y1="511.25" x2="119.00" y2="530.00" stroke="#2a2a2a" stroke-width="1.05" />
<line x1="111.10" y1="511.25" x2="126.90" y2="511.25" stroke="#2a2a2a" stroke-width="1.05" />
<line x1="111.10" y1="530.00" x2="126.90" y2="530.00" stroke="#2a2a2a" stroke-width="1.05" />
<line x1="178.64" y1="494.25" x2="178.64" y2="523.00" stroke="#2a2a2a" stroke-width="1.05" />
<line x1="170.74" y1="494.25" x2="186.54" y2="494.25" stroke="#2a2a2a" stroke-width="1.05" />
<line x1="170.74" y1="523.00" x2="186.54" y2="523.00" stroke="#2a2a2a" stroke-width="1.05" />
<line x1="208.46" y1="484.50" x2="208.46" y2="518.25" stroke="#2a2a2a" stroke-width="1.05" />
<line x1="200.56" y1="484.50" x2="216.36" y2="484.50" stroke="#2a2a2a" stroke-width="1.05" />
<line x1="200.56" y1="518.25" x2="216.36" y2="518.25" stroke="#2a2a2a" stroke-width="1.05" />
<line x1="238.28" y1="487.00" x2="238.28" y2="520.75" stroke="#2a2a2a" stroke-width="1.05" />
<line x1="230.38" y1="487.00" x2="246.18" y2="487.00" stroke="#2a2a2a" stroke-width="1.05" />
<line x1="230.38" y1="520.75" x2="246.18" y2="520.75" stroke="#2a2a2a" stroke-width="1.05" />
<line x1="268.10" y1="506.75" x2="268.10" y2="530.00" stroke="#2a2a2a" stroke-width="1.05" />
<line x1="260.20" y1="506.75" x2="276.00" y2="506.75" stroke="#2a2a2a" stroke-width="1.05" />
<line x1="260.20" y1="530.00" x2="276.00" y2="530.00" stroke="#2a2a2a" stroke-width="1.05" />
<line x1="297.92" y1="508.80" x2="297.92" y2="532.80" stroke="#2a2a2a" stroke-width="1.05" />
<line x1="290.02" y1="508.80" x2="305.82" y2="508.80" stroke="#2a2a2a" stroke-width="1.05" />
<line x1="290.02" y1="532.80" x2="305.82" y2="532.80" stroke="#2a2a2a" stroke-width="1.05" />
<line x1="357.56" y1="506.25" x2="357.56" y2="535.50" stroke="#2a2a2a" stroke-width="1.05" />
<line x1="349.66" y1="506.25" x2="365.46" y2="506.25" stroke="#2a2a2a" stroke-width="1.05" />
<line x1="349.66" y1="535.50" x2="365.46" y2="535.50" stroke="#2a2a2a" stroke-width="1.05" />
<line x1="417.20" y1="523.75" x2="417.20" y2="557.00" stroke="#2a2a2a" stroke-width="1.05" />
<line x1="409.30" y1="523.75" x2="425.10" y2="523.75" stroke="#2a2a2a" stroke-width="1.05" />
<line x1="409.30" y1="557.00" x2="425.10" y2="557.00" stroke="#2a2a2a" stroke-width="1.05" />
<line x1="478.80" y1="511.75" x2="478.80" y2="540.00" stroke="#2a2a2a" stroke-width="1.05" />
<line x1="470.90" y1="511.75" x2="486.70" y2="511.75" stroke="#2a2a2a" stroke-width="1.05" />
<line x1="470.90" y1="540.00" x2="486.70" y2="540.00" stroke="#2a2a2a" stroke-width="1.05" />
<line x1="130.28" y1="538.22" x2="167.36" y2="545.53" stroke="#000" stroke-width="1.35" stroke-dasharray="2.2 3.86"/>
<line x1="189.57" y1="551.32" x2="197.53" y2="553.93" stroke="#000" stroke-width="1.35" stroke-dasharray="2.2 3.86"/>
<line x1="219.63" y1="554.78" x2="227.11" y2="552.97" stroke="#000" stroke-width="1.35" stroke-dasharray="2.2 3.86"/>
<line x1="248.95" y1="545.97" x2="257.43" y2="542.58" stroke="#000" stroke-width="1.35" stroke-dasharray="2.2 3.86"/>
<line x1="277.73" y1="544.58" x2="288.29" y2="551.47" stroke="#000" stroke-width="1.35" stroke-dasharray="2.2 3.86"/>
<line x1="309.27" y1="559.61" x2="346.21" y2="565.64" stroke="#000" stroke-width="1.35" stroke-dasharray="2.2 3.86"/>
<line x1="368.91" y1="569.36" x2="405.85" y2="575.39" stroke="#000" stroke-width="1.35" stroke-dasharray="2.2 3.86"/>
<line x1="428.16" y1="573.78" x2="467.84" y2="561.22" stroke="#000" stroke-width="1.35" stroke-dasharray="2.2 3.86"/>
<polyline points="119.00,520.50 178.64,508.75 208.46,501.90 238.28,503.75 268.10,518.50 297.92,521.25 357.56,521.25 417.20,540.60 478.80,526.25" fill="none" stroke="#000" stroke-width="1.25" />
<ellipse cx="119.00" cy="536.00" rx="7.75" ry="7.1" fill="#fff" stroke="#000" stroke-width="2.0"/>
<ellipse cx="178.64" cy="547.75" rx="7.75" ry="7.1" fill="#fff" stroke="#000" stroke-width="2.0"/>
<ellipse cx="208.46" cy="557.50" rx="7.75" ry="7.1" fill="#fff" stroke="#000" stroke-width="2.0"/>
<ellipse cx="238.28" cy="550.25" rx="7.75" ry="7.1" fill="#fff" stroke="#000" stroke-width="2.0"/>
<ellipse cx="268.10" cy="538.30" rx="7.75" ry="7.1" fill="#fff" stroke="#000" stroke-width="2.0"/>
<ellipse cx="297.92" cy="557.75" rx="7.75" ry="7.1" fill="#fff" stroke="#000" stroke-width="2.0"/>
<ellipse cx="357.56" cy="567.50" rx="7.75" ry="7.1" fill="#fff" stroke="#000" stroke-width="2.0"/>
<ellipse cx="417.20" cy="577.25" rx="7.75" ry="7.1" fill="#fff" stroke="#000" stroke-width="2.0"/>
<ellipse cx="478.80" cy="557.75" rx="7.75" ry="7.1" fill="#fff" stroke="#000" stroke-width="2.0"/>
<rect x="110.80" y="512.75" width="16.4" height="15.5" fill="#000"/>
<rect x="170.44" y="501.00" width="16.4" height="15.5" fill="#000"/>
<rect x="200.26" y="494.15" width="16.4" height="15.5" fill="#000"/>
<rect x="230.08" y="496.00" width="16.4" height="15.5" fill="#000"/>
<rect x="259.90" y="510.75" width="16.4" height="15.5" fill="#000"/>
<rect x="289.72" y="513.50" width="16.4" height="15.5" fill="#000"/>
<rect x="349.36" y="513.50" width="16.4" height="15.5" fill="#000"/>
<rect x="409.00" y="532.85" width="16.4" height="15.5" fill="#000"/>
<rect x="470.60" y="518.50" width="16.4" height="15.5" fill="#000"/>
<text transform="translate(19.5,605.6) rotate(-90)" font-size="23" letter-spacing="0.16" font-family="Liberation Sans, sans-serif">PC:Ag (U/mL)</text>
<g transform="translate(108.05,636.00) scale(1.0,1)">
<text x="0.00" y="0" font-size="22.6" font-family="Liberation Sans, sans-serif">-</text>
<text x="8.53" y="0" font-size="22.6" font-family="Liberation Sans, sans-serif">2</text>
</g>
<g transform="translate(137.87,636.00) scale(1.0,1)">
<text x="0.00" y="0" font-size="22.6" font-family="Liberation Sans, sans-serif">-</text>
<path transform="translate(8.53,0) scale(0.01104,-0.01056)" d="M763,0 L583,0 L583,1147 Q518,1085 412.5,1023 Q307,961 223,930 L223,1104 Q374,1175 487,1276 Q600,1377 647,1472 L763,1472 Z" fill="#000" stroke="#000" stroke-width="31.7"/>
</g>
<g transform="translate(171.96,636.00) scale(1.0,1)">
<text x="0.00" y="0" font-size="22.6" font-family="Liberation Sans, sans-serif">0</text>
</g>
<g transform="translate(201.78,636.00) scale(1.0,1)">
<path transform="translate(0.00,0) scale(0.01104,-0.01056)" d="M763,0 L583,0 L583,1147 Q518,1085 412.5,1023 Q307,961 223,930 L223,1104 Q374,1175 487,1276 Q600,1377 647,1472 L763,1472 Z" fill="#000" stroke="#000" stroke-width="31.7"/>
</g>
<g transform="translate(231.60,636.00) scale(1.0,1)">
<text x="0.00" y="0" font-size="22.6" font-family="Liberation Sans, sans-serif">2</text>
</g>
<g transform="translate(261.42,636.00) scale(1.0,1)">
<text x="0.00" y="0" font-size="22.6" font-family="Liberation Sans, sans-serif">3</text>
</g>
<g transform="translate(291.24,637.00) scale(1.0,1)">
<text x="0.00" y="0" font-size="22.6" font-family="Liberation Sans, sans-serif">4</text>
</g>
<g transform="translate(320.56,637.00) scale(1.0,1)">
<text x="0.00" y="0" font-size="22.6" font-family="Liberation Sans, sans-serif">5</text>
</g>
<g transform="translate(350.38,637.00) scale(1.0,1)">
<text x="0.00" y="0" font-size="22.6" font-family="Liberation Sans, sans-serif">6</text>
</g>
<g transform="translate(380.20,637.00) scale(1.0,1)">
<text x="0.00" y="0" font-size="22.6" font-family="Liberation Sans, sans-serif">7</text>
</g>
<g transform="translate(410.02,637.00) scale(1.0,1)">
<text x="0.00" y="0" font-size="22.6" font-family="Liberation Sans, sans-serif">8</text>
</g>
<g transform="translate(464.83,637.00) scale(1.0,1)">
<text x="0.00" y="0" font-size="22.6" font-family="Liberation Sans, sans-serif">2</text>
<text x="13.57" y="0" font-size="22.6" font-family="Liberation Sans, sans-serif">4</text>
</g>
<text x="134.90" y="676.40" font-size="24" text-anchor="start" letter-spacing="0.28" font-family="Liberation Sans, sans-serif" >hours relative to LPS infusion</text>
</g>
</svg>
</body></html>
